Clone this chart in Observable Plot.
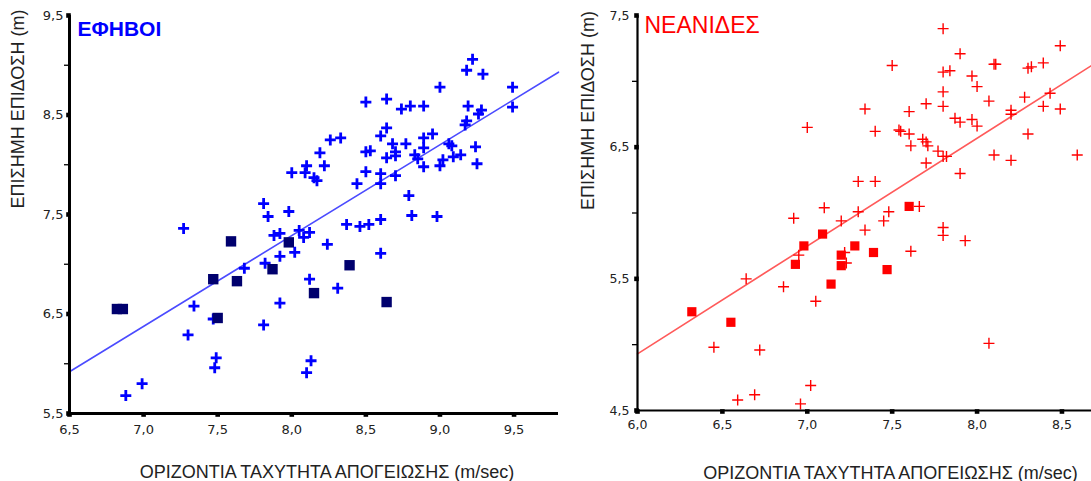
<!DOCTYPE html>
<html><head><meta charset="utf-8">
<script src="https://cdn.jsdelivr.net/npm/d3@7"></script>
<script src="https://cdn.jsdelivr.net/npm/@observablehq/plot@0.6"></script>
<style>
html,body{margin:0;padding:0;background:#fff;}
#wrap{display:flex;width:1091px;height:481px;overflow:hidden;}
#wrap svg{display:block;flex:none;}
</style></head><body><div id="wrap"></div>
<script>
// ---- ΕΦΗΒΟΙ (boys) ----
const boysTitle = "ΕΦΗΒΟΙ";
const boysCrossX = [9.22,9.18,9.29,9.00,9.49,9.49,8.50,8.64,8.74,8.80,
  8.89,9.19,9.28,9.26,9.18,9.17,8.64,8.60,8.26,8.33,
  8.19,8.50,8.53,8.68,8.77,8.89,8.95,8.89,8.70,8.70,
  8.64,8.83,8.85,9.06,9.08,9.09,9.14,9.24,9.25,9.02,
  9.00,8.89,8.10,8.22,8.00,8.09,8.15,8.17,8.50,8.60,
  8.70,8.44,8.60,8.79,8.81,8.98,7.81,7.84,7.98,8.37,
  8.46,8.52,8.60,8.05,8.12,8.08,7.88,7.92,7.27,8.24,
  8.02,7.92,7.82,7.68,8.12,8.31,7.92,7.34,7.47,7.30,
  7.81,7.49,7.48,6.99,6.88,8.60,8.13,8.10];
const boysCrossY = [9.06,8.95,8.91,8.78,8.78,8.58,8.63,8.66,8.56,8.59,
  8.59,8.59,8.55,8.51,8.44,8.40,8.37,8.29,8.25,8.27,
  8.12,8.13,8.14,8.21,8.21,8.27,8.31,8.17,8.13,8.09,
  8.07,8.10,8.06,8.21,8.19,8.08,8.10,8.18,8.01,8.05,
  7.99,7.98,7.99,7.99,7.92,7.92,7.87,7.84,7.93,7.91,
  7.89,7.81,7.81,7.69,7.49,7.48,7.61,7.48,7.53,7.40,
  7.38,7.40,7.45,7.34,7.32,7.27,7.29,7.31,7.36,7.20,
  7.12,7.08,7.01,6.96,6.85,6.76,6.61,6.58,6.45,6.29,
  6.39,6.06,5.96,5.80,5.68,7.11,6.03,5.91];
const boysSquareX = [7.59,7.98,7.47,7.63,7.87,8.39,8.15,7.50,6.82,6.86,8.64];
const boysSquareY = [7.23,7.22,6.85,6.83,6.95,6.99,6.71,6.46,6.55,6.55,6.62];
const boysLineX = [6.5, 9.8];
const boysLineY = [5.92, 8.93];
const boysXTicks = [6.5,7.0,7.5,8.0,8.5,9.0,9.5];
const boysYTicks = [5.5,6.5,7.5,8.5,9.5];
const boysYMinor = [6.0,7.0,8.0,9.0];

// ---- ΝΕΑΝΙΔΕΣ (girls) ----
const girlsTitle = "ΝΕΑΝΙΔΕΣ";
const girlsCrossX = [7.80,7.90,7.50,7.80,7.84,7.97,8.00,8.10,8.11,8.30,
  8.32,8.39,8.49,7.80,7.80,7.70,7.60,7.34,8.07,8.28,
  8.43,8.39,8.49,8.20,8.20,7.87,7.90,7.97,8.00,7.40,
  7.54,7.55,7.60,7.68,7.70,7.71,7.61,7.77,7.80,7.82,
  7.70,7.90,8.30,8.10,8.20,8.59,7.30,7.40,7.10,7.30,
  7.20,7.48,7.45,7.34,7.66,7.80,7.80,7.93,7.61,7.22,
  7.23,8.07,6.95,7.05,6.86,6.64,6.45,6.72,6.59,6.69,
  7.02,6.96,7.00,6.92];
const girlsCrossY = [7.40,7.21,7.12,7.07,7.08,7.04,6.96,7.13,7.13,7.10,
  7.11,7.14,7.27,6.92,6.81,6.83,6.77,6.79,6.85,6.88,
  6.91,6.81,6.79,6.78,6.75,6.72,6.69,6.71,6.66,6.62,
  6.63,6.62,6.60,6.56,6.54,6.51,6.51,6.47,6.43,6.43,
  6.38,6.30,6.60,6.44,6.40,6.44,6.24,6.24,6.04,6.01,
  5.94,6.01,5.94,5.87,6.05,5.89,5.83,5.79,5.71,5.70,
  5.62,5.01,5.68,5.33,5.44,5.50,4.98,4.96,4.58,4.62,
  4.69,4.55,6.65,5.96];
const girlsSquareX = [7.60,7.09,6.98,6.93,7.20,7.20,7.28,7.39,7.47,7.14,6.32,6.55];
const girlsSquareY = [6.05,5.84,5.75,5.61,5.68,5.60,5.75,5.70,5.57,5.46,5.25,5.17];
const girlsLineX = [6.0, 8.674];
const girlsLineY = [4.93, 7.12];
const girlsXTicks = [6.0,6.5,7.0,7.5,8.0,8.5];
const girlsYTicks = [4.5,5.5,6.5,7.5];
const girlsYMinor = [5.0,6.0,7.0];

const xLabel = "ΟΡΙΖΟΝΤΙΑ ΤΑΧΥΤΗΤΑ ΑΠΟΓΕΙΩΣΗΣ (m/sec)";
const yLabel = "ΕΠΙΣΗΜΗ ΕΠΙΔΟΣΗ (m)";

const fmt = d => d3.format(".1f")(d).replace(".", ",");
const plusSym = {draw(ctx, size){const r = Math.sqrt(size/Math.PI); ctx.moveTo(-r,0); ctx.lineTo(r,0); ctx.moveTo(0,-r); ctx.lineTo(0,r);}};
const squareSym = {draw(ctx, size){const r = Math.sqrt(size/Math.PI); ctx.rect(-r,-r,2*r,2*r);}};

function panel(o) {
  const idx = a => d3.range(a.length);
  return Plot.plot({
    width: o.width, height: 481,
    marginLeft: o.ml, marginRight: o.mr, marginTop: 15, marginBottom: o.mb,
    x: {domain: o.xDomain},
    y: {domain: o.yDomain},
    style: {fontFamily: "'Liberation Sans', Arial, sans-serif", background: "#fff", overflow: "visible"},
    marks: [
      Plot.line(idx(o.lineX), {x: i => o.lineX[i], y: i => o.lineY[i], stroke: o.lineColor, strokeWidth: 1.6}),
      Plot.dot(idx(o.crossX), {x: i => o.crossX[i], y: i => o.crossY[i], symbol: plusSym, r: o.crossR, fill: "none", stroke: o.crossColor, strokeWidth: o.crossW}),
      Plot.dot(idx(o.sqX), {x: i => o.sqX[i], y: i => o.sqY[i], symbol: squareSym, r: o.sqR, fill: o.sqColor, stroke: "none"}),
      Plot.ruleX([o.xDomain[0]], {stroke: "#000", strokeWidth: o.axisW}),
      Plot.ruleY([o.yDomain[0]], {stroke: "#000", strokeWidth: o.axisW}),
      Plot.axisY(o.yMinor, {tickSize: 5, tickFormat: () => "", stroke: "#000", strokeWidth: 1.3}),
      Plot.axisY(o.yTicks, {tickSize: 0, tickPadding: o.yPad, tickFormat: fmt, fontSize: o.tickFont, fill: "#222", fontFamily: "'DejaVu Sans', sans-serif"}),
      Plot.axisX(o.xTicks, {tickSize: 0, tickPadding: o.xPad, tickFormat: fmt, fontSize: o.tickFont, fill: "#222", fontFamily: "'DejaVu Sans', sans-serif"}),
      Plot.dot(o.yTicks, {x: () => o.xDomain[0], y: d => d, symbol: squareSym, r: 2.3, fill: "#000", dx: -1}),
      Plot.dot(o.xTicks, {x: d => d, y: () => o.yDomain[0], symbol: squareSym, r: 2.3, fill: "#000", dy: 1}),
      Plot.text([o.title], {frameAnchor: "top-left", text: d => d, dx: o.titleDx, dy: o.titleDy, textAnchor: "start", lineAnchor: "bottom", fontSize: o.titleSize, fontWeight: o.titleWeight, fill: o.titleColor}),
      Plot.text([xLabel], {frameAnchor: "bottom", text: d => d, dx: o.xlDx, dy: o.xlDy, lineAnchor: "bottom", fontSize: 18, fill: "#222"}),
      Plot.text([yLabel], {frameAnchor: "left", text: d => d, rotate: -90, dx: o.ylDx, dy: o.ylDy, lineAnchor: "bottom", fontSize: 18, fill: "#222"})
    ]
  });
}

const wrap = document.getElementById("wrap");
wrap.append(panel({
  width: 575, ml: 69, mr: 17, mb: 68,
  xDomain: [6.5, 9.8], yDomain: [5.5, 9.5],
  xTicks: boysXTicks, yTicks: boysYTicks, yMinor: boysYMinor,
  crossX: boysCrossX, crossY: boysCrossY, sqX: boysSquareX, sqY: boysSquareY,
  lineX: boysLineX, lineY: boysLineY,
  lineColor: "#4b4bff", crossColor: "#0000ff", crossR: 5.5, crossW: 2.8,
  sqColor: "#00006e", sqR: 5.2,
  axisW: 3, yPad: 6, xPad: 11, tickFont: 13,
  title: boysTitle, titleDx: 8, titleDy: 20, titleSize: 21, titleWeight: "bold", titleColor: "#0000ff",
  xlDx: 13, xlDy: 64, ylDx: -46, ylDy: -6
}));
wrap.append(panel({
  width: 516, ml: 62, mr: 0, mb: 71,
  xDomain: [6.0, 8.674], yDomain: [4.5, 7.5],
  xTicks: girlsXTicks, yTicks: girlsYTicks, yMinor: girlsYMinor,
  crossX: girlsCrossX, crossY: girlsCrossY, sqX: girlsSquareX, sqY: girlsSquareY,
  lineX: girlsLineX, lineY: girlsLineY,
  lineColor: "#ff5a5a", crossColor: "#ff0000", crossR: 5.5, crossW: 1.4,
  sqColor: "#ff0000", sqR: 4.6,
  axisW: 2.2, yPad: 8, xPad: 10, tickFont: 12.5,
  title: girlsTitle, titleDx: 7, titleDy: 17, titleSize: 23, titleWeight: "normal", titleColor: "#ff0000",
  xlDx: 26, xlDy: 68, ylDx: -44, ylDy: -3
}));
</script></body></html>
